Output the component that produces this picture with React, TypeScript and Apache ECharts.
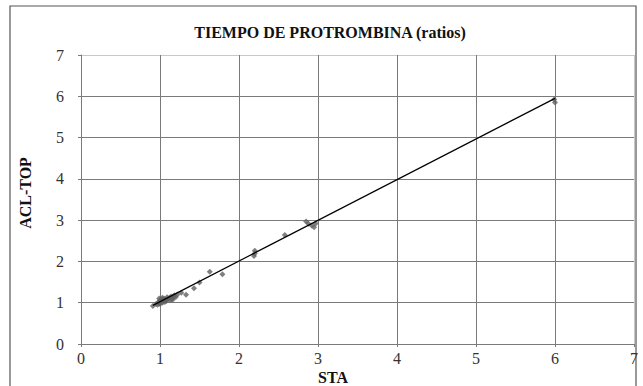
import React, { useEffect, useRef } from "react";
import * as echarts from "echarts";

const TITLE = "TIEMPO DE PROTROMBINA (ratios)";
const X_NAME = "STA";
const Y_NAME = "ACL-TOP";

const sta = [
  0.91, 0.95, 0.97, 0.98, 0.99, 1.0, 1.0, 1.01, 1.02, 1.03, 1.04, 1.05, 1.06, 1.07, 1.08,
  1.1, 1.12, 1.13, 1.14, 1.15, 1.17, 1.18, 1.2, 1.22, 0.99, 1.03, 1.09, 1.16, 1.27, 1.33,
  1.43, 1.5, 1.63, 1.79, 2.19, 2.2, 2.2, 2.58, 2.85, 2.88, 2.92, 2.95, 2.97, 6.0, 5.99,
];
const aclTop = [
  0.92, 0.97, 0.95, 1.02, 0.99, 1.06, 0.97, 1.03, 1.08, 1.0, 1.05, 1.1, 1.02, 1.07, 1.04,
  1.09, 1.12, 1.06, 1.15, 1.1, 1.13, 1.18, 1.14, 1.2, 1.1, 1.12, 1.13, 1.07, 1.24, 1.19,
  1.35, 1.49, 1.75, 1.69, 2.13, 2.19, 2.26, 2.64, 2.97, 2.91, 2.87, 2.83, 2.92, 5.85, 5.92,
];

const trendSlope = 0.985;
const trendIntercept = 0.04;

const axisTicks = [0, 1, 2, 3, 4, 5, 6, 7];

export default function App() {
  const ref = useRef<HTMLDivElement>(null);
  useEffect(() => {
    if (!ref.current) return;
    const chart = echarts.init(ref.current, undefined, { renderer: "svg" });
    const points = sta.map((x, i) => [x, aclTop[i]]);
    const xMin = Math.min(...sta);
    const xMax = Math.max(...sta);
    const trend = [
      [xMin, trendSlope * xMin + trendIntercept],
      [xMax, trendSlope * xMax + trendIntercept],
    ];
    const gridColors = axisTicks.map((v, i) => (i === axisTicks.length - 1 ? "#c8c8c8" : "#7a7a7a"));
    const font = "Liberation Serif";
    const textStyle = (text: string, size: number) => ({
      text,
      fontFamily: font,
      fontWeight: "bold",
      fontSize: size,
      fill: "#111111",
      textAlign: "center",
      textVerticalAlign: "middle",
    });
    chart.setOption({
      animation: false,
      backgroundColor: "#ffffff",
      grid: { left: 81, right: 9, top: 55, bottom: 42 },
      graphic: [
        {
          type: "rect",
          shape: { x: 10, y: 6, width: 626, height: 400 },
          style: { fill: "none", stroke: "#555555", lineWidth: 1.2 },
          silent: true,
        },
        { type: "text", x: 330, y: 32, style: textStyle(TITLE, 16) },
        { type: "text", x: 333, y: 377, style: textStyle(X_NAME, 16) },
        { type: "text", x: 25, y: 193, rotation: Math.PI / 2, style: textStyle(Y_NAME, 16) },
      ],
      xAxis: {
        type: "value",
        min: 0,
        max: 7,
        interval: 1,
        axisLine: { show: true, lineStyle: { color: "#7a7a7a", width: 1 } },
        axisTick: { show: true, length: 3, lineStyle: { color: "#7a7a7a" } },
        axisLabel: { color: "#333333", fontSize: 16, fontFamily: font, margin: 6 },
        splitLine: { show: true, lineStyle: { color: gridColors, width: 1 } },
      },
      yAxis: {
        type: "value",
        min: 0,
        max: 7,
        interval: 1,
        axisLine: { show: true, lineStyle: { color: "#7a7a7a", width: 1 } },
        axisTick: { show: true, length: 3, lineStyle: { color: "#7a7a7a" } },
        axisLabel: { color: "#333333", fontSize: 16, fontFamily: font, margin: 17 },
        splitLine: { show: true, lineStyle: { color: gridColors, width: 1 } },
      },
      series: [
        {
          type: "scatter",
          data: points,
          symbol: "diamond",
          symbolSize: 6,
          itemStyle: { color: "#606060" },
          z: 3,
        },
        {
          type: "line",
          data: trend,
          showSymbol: false,
          symbol: "none",
          lineStyle: { color: "#000000", width: 1.2 },
          z: 4,
        },
      ],
    });
    return () => chart.dispose();
  }, []);
  return (
    <div
      ref={ref}
      style={{ position: "fixed", left: 0, top: 0, width: 643, height: 386 }}
    />
  );
}
